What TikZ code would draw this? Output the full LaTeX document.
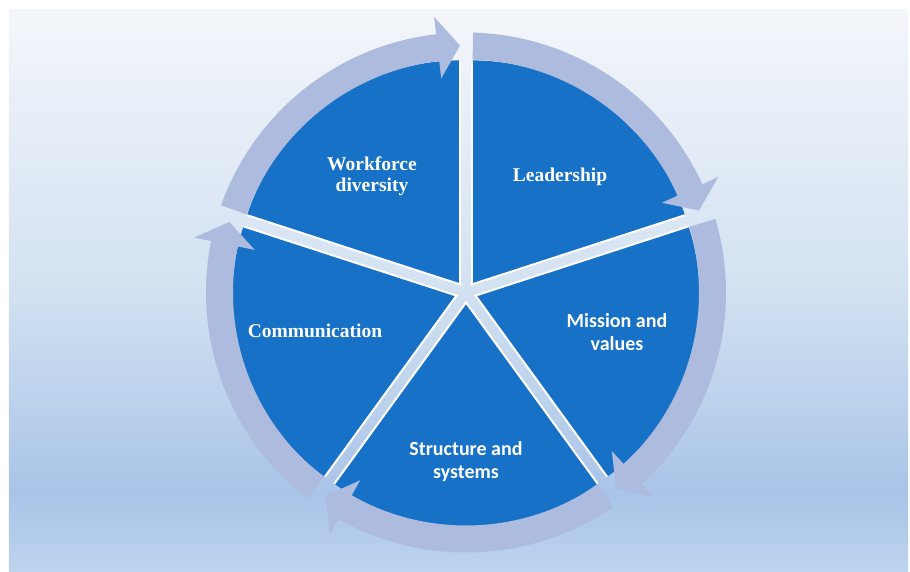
\documentclass[tikz,border=0pt]{standalone}
\usepackage{fontspec}
\setmainfont{Liberation Serif}
\newfontfamily\carlito{Carlito}
\definecolor{bgtop}{HTML}{F4F6FB}
\definecolor{bgmid}{HTML}{D2E1F1}
\definecolor{bglow}{HTML}{A9C4E8}
\definecolor{bgbottom}{HTML}{BED4EF}
\definecolor{pieblue}{HTML}{1771C7}
\definecolor{ringblue}{HTML}{ACBBDE}
\pgfdeclareverticalshading{bgfade}{100bp}{color(0bp)=(bgbottom); color(25bp)=(bgbottom);
  color(32bp)=(bglow); color(50bp)=(bgmid); color(75bp)=(bgtop); color(100bp)=(bgtop)}
\begin{document}
\begin{tikzpicture}
  [x=1pt,y=1pt,
    slice/.style={fill=pieblue},
    cut/.style={draw=white,line width=2pt},
    ring/.style={fill=ringblue},
    tserif/.style={text=white,align=center,font=\fontsize{19.5}{21}\selectfont\bfseries},
    tsans/.style={text=white,align=center,font=\carlito\fontsize{20}{23}\selectfont\bfseries},
]

  \useasboundingbox (-466,-279.5) rectangle (444,292.5);
  \shade[shading=bgfade] (-457,-279.5) rectangle (442,282.5);

  % pie, pulled apart
  \fill[slice] (54:10) -- ++(18:224) arc[start angle=18,end angle=90,radius=224] -- cycle;
  \fill[slice] (126:10) -- ++(90:224) arc[start angle=90,end angle=162,radius=224] -- cycle;
  \fill[slice] (198:10) -- ++(162:224) arc[start angle=162,end angle=234,radius=224] -- cycle;
  \fill[slice] (270:10) -- ++(234:224) arc[start angle=234,end angle=306,radius=224] -- cycle;
  \fill[slice] (-18:10) -- ++(-54:224) arc[start angle=-54,end angle=18,radius=224] -- cycle;

  \draw[cut] (54:10) ++(18:224) -- (54:10) -- ++(90:224);
  \draw[cut] (126:10) ++(90:224) -- (126:10) -- ++(162:224);
  \draw[cut] (198:10) ++(162:224) -- (198:10) -- ++(234:224);
  \draw[cut] (270:10) ++(234:224) -- (270:10) -- ++(306:224);
  \draw[cut] (-18:10) ++(-54:224) -- (-18:10) -- ++(18:224);

  % arrows round the pie
  \fill[ring] (160.4:260) arc[start angle=160.4,end angle=96.6,radius=260]
    -- (96.6:277.5) -- (91.4:247) -- (96.6:215.5) -- (96.6:233)
    arc[start angle=96.6,end angle=160.4,radius=233] -- cycle;
  \fill[ring] (88.4:260) arc[start angle=88.4,end angle=24.6,radius=260]
    -- (24.6:277.5) -- (19.4:247) -- (24.6:215.5) -- (24.6:233)
    arc[start angle=24.6,end angle=88.4,radius=233] -- cycle;
  \fill[ring] (16.4:260) arc[start angle=16.4,end angle=-47.4,radius=260]
    -- (-47.4:277.5) -- (-52.6:247) -- (-47.4:215.5) -- (-47.4:233)
    arc[start angle=-47.4,end angle=16.4,radius=233] -- cycle;
  \fill[ring] (-55.6:260) arc[start angle=-55.6,end angle=-119.4,radius=260]
    -- (-119.4:277.5) -- (-124.6:247) -- (-119.4:215.5) -- (-119.4:233)
    arc[start angle=-119.4,end angle=-55.6,radius=233] -- cycle;
  \fill[ring] (-127.6:260) arc[start angle=-127.6,end angle=-191.4,radius=260]
    -- (-191.4:277.5) -- (-196.6:247) -- (-191.4:215.5) -- (-191.4:233)
    arc[start angle=-191.4,end angle=-127.6,radius=233] -- cycle;

  \node[tserif] (lead) at (94,115.5) {Leadership};
  \node[tserif] (wfd) at (-94,116.5) {Workforce\\diversity};
  \node[tsans] (miss) at (151,-39.5) {Mission and\\values};
  \node[tserif] (comm) at (-151,-38.5) {Communication};
  \node[tsans] (struct) at (0,-169.5) {Structure and\\systems};

\end{tikzpicture}
\end{document}
